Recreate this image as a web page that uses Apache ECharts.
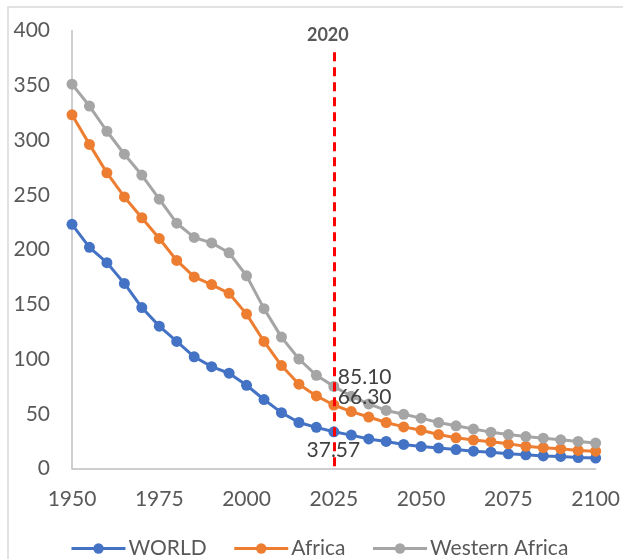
<!DOCTYPE html>
<html>
<head>
<meta charset="utf-8">
<script src="https://cdn.jsdelivr.net/npm/echarts@6/dist/echarts.min.js"></script>
<style>
  html, body { margin: 0; padding: 0; background: #ffffff; }
  #chart { width: 623px; height: 559px; }
</style>
</head>
<body>
<div id="chart"></div>
<script>
// Years of observation / projection (5-year steps)
const years = [1950, 1955, 1960, 1965, 1970, 1975, 1980, 1985, 1990, 1995,
               2000, 2005, 2010, 2015, 2020, 2025, 2030, 2035, 2040, 2045,
               2050, 2055, 2060, 2065, 2070, 2075, 2080, 2085, 2090, 2095, 2100];

const world = [223, 202, 188, 169, 147, 130, 116, 102, 93, 87,
               76, 63, 51, 42, 37.57, 33.5, 30.5, 27, 24.7, 22,
               20, 18.7, 17.3, 15.8, 14.9, 13.4, 12.5, 11.5, 11, 10, 9.5];

const africa = [323, 296, 270, 248, 229, 210, 190, 175, 168, 160,
                141, 116, 94, 77, 66.30, 58, 52, 47, 42, 38,
                35, 31, 28, 26, 24.5, 22.5, 20.3, 19, 18, 16.5, 15.8];

const westernAfrica = [351, 331, 308, 287, 268, 246, 224, 211, 206, 197,
                       176, 146, 120, 100, 85.10, 75, 66, 59, 53, 49.5,
                       46, 42, 39, 36, 33.2, 31, 29.2, 27.7, 26.2, 24.7, 23.2];

const seriesNames = ['WORLD', 'Africa', 'Western Africa'];
const seriesColors = ['#4472C4', '#ED7D31', '#A5A5A5'];

// Year that the labelled values refer to, and where the reference line sits
const labelYear = 2020;
const markerYear = 2025;
const markerTop = 384;

const FONT = 'Lato, "Open Sans", sans-serif';

function pairs(values) {
  return years.map((y, i) => [y, values[i]]);
}

function withLabel(values, label) {
  const data = pairs(values);
  const idx = years.indexOf(labelYear);
  data[idx] = { value: data[idx], label: Object.assign({ show: true }, label) };
  return data;
}

const labelStyle = {
  color: '#404040',
  fontFamily: FONT,
  fontSize: 21,
  lineHeight: 22,
  formatter: p => p.value[1].toFixed(2)
};

function lineSeries(name, color, data, extra) {
  return Object.assign({
    name: name,
    type: 'line',
    data: data,
    symbol: 'circle',
    symbolSize: 11,
    lineStyle: { color: color, width: 3 },
    itemStyle: { color: color },
    emphasis: { disabled: true },
    animation: false
  }, extra || {});
}

const chart = echarts.init(document.getElementById('chart'), null, { renderer: 'canvas' });

chart.setOption({
  backgroundColor: '#ffffff',
  animation: false,
  textStyle: { fontFamily: FONT },
  graphic: [{
    type: 'rect',
    shape: { x: 8, y: 7, width: 1000, height: 1000 },
    style: { fill: 'none', stroke: '#d9d9d9', lineWidth: 1.5 },
    silent: true
  }],
  grid: { left: 72, right: 27, top: 30.5, bottom: 90.5, containLabel: false },
  legend: {
    left: 65,
    top: 533,
    itemWidth: 54,
    itemHeight: 13,
    itemGap: 26,
    lineStyle: { width: 3 },
    textStyle: { color: '#595959', fontFamily: FONT, fontSize: 21, padding: [0, 0, 0, -2] },
    data: seriesNames
  },
  xAxis: {
    type: 'value',
    min: 1950,
    max: 2100,
    interval: 25,
    axisLine: { show: true, lineStyle: { color: '#bfbfbf', width: 1.5 } },
    axisTick: { show: false },
    splitLine: { show: false },
    axisLabel: { color: '#595959', fontFamily: FONT, fontSize: 21, margin: 20, formatter: v => String(v) }
  },
  yAxis: {
    type: 'value',
    min: 0,
    max: 400,
    interval: 50,
    axisLine: { show: true, lineStyle: { color: '#bfbfbf', width: 1.5 } },
    axisTick: { show: false },
    splitLine: { show: false },
    axisLabel: { color: '#595959', fontFamily: FONT, fontSize: 21, margin: 22 }
  },
  series: [
    lineSeries(seriesNames[0], seriesColors[0],
      withLabel(world, Object.assign({}, labelStyle, { position: 'bottom', offset: [17, 1] }))),
    lineSeries(seriesNames[1], seriesColors[1],
      withLabel(africa, Object.assign({}, labelStyle, { position: 'right', offset: [11, 1] }))),
    lineSeries(seriesNames[2], seriesColors[2],
      withLabel(westernAfrica, Object.assign({}, labelStyle, { position: 'right', offset: [11, 2] })),
      {
        markLine: {
          silent: true,
          symbol: ['none', 'none'],
          animation: false,
          lineStyle: { color: '#FF0000', width: 3, type: [9, 6] },
          label: {
            show: true,
            position: 'end',
            formatter: String(labelYear),
            color: '#595959',
            fontFamily: FONT,
            fontWeight: 'bold',
            fontSize: 18,
            distance: 4,
            offset: [-6, 0]
          },
          data: [[{ coord: [markerYear, 2] }, { coord: [markerYear, markerTop] }]]
        }
      })
  ]
});
</script>
</body>
</html>
